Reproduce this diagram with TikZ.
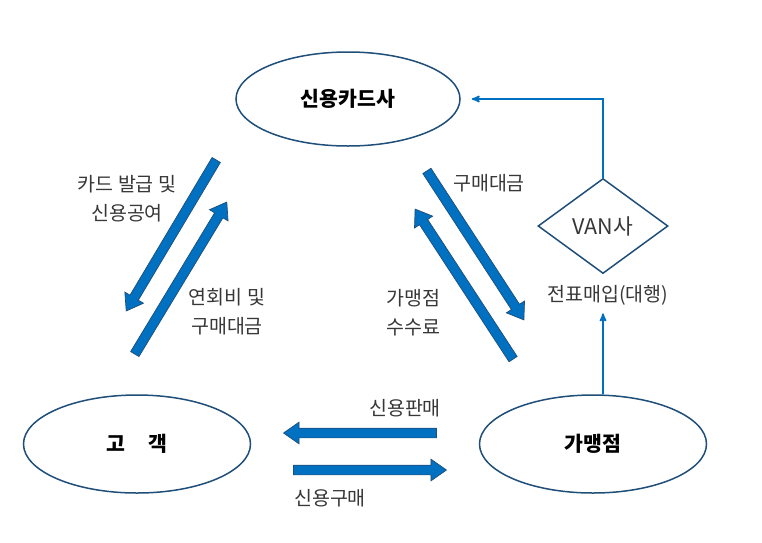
\documentclass[tikz,border=0pt]{standalone}
\usepackage{fontspec}
\setmainfont{Noto Sans CJK KR}
\usepackage{tikz}
\usetikzlibrary{arrows}
\usetikzlibrary{positioning,shapes.geometric,shapes.arrows,calc}
\definecolor{edgeblue}{RGB}{31,78,121}
\definecolor{arrowblue}{RGB}{0,112,192}
\definecolor{labelgray}{RGB}{55,55,55}

\begin{document}
\begin{tikzpicture}[
		x=1pt,
		y=-1pt,
		>=stealth',
		thick,
		main node/.style={
			ellipse,
			draw=edgeblue,
			line width=1.5pt,
			inner sep=0pt,
			font=\fontsize{20.5}{24}\selectfont\bfseries
		},
		label node/.style={
			text=labelgray,
			align=center,
			inner sep=0pt,
			font=\fontsize{19.5}{29}\selectfont
		},
		block arrow/.style={
			single arrow,
			draw=edgeblue,
			fill=arrowblue,
			line width=0.7pt,
			inner xsep=0pt,
			inner ysep=4.5pt,
			minimum width=0pt,
			single arrow head extend=6pt,
			single arrow tip angle=70
		},
		thin arrow/.style={
			->,
			draw=arrowblue,
			line width=1.7pt
		}
		]
		\useasboundingbox (0,0) rectangle (762,542);
		
		\node[main node, minimum width=224pt, minimum height=94pt] (card) at (348,99) {신용카드사};
		\node[main node, minimum width=227pt, minimum height=98pt] (cust) at (137,444) {고\hspace{1.1em}객};
		\node[main node, minimum width=227pt, minimum height=98pt] (shop) at (593,444) {가맹점};
		\node[diamond, aspect=1.37, draw=edgeblue, line width=1.5pt, inner sep=0pt,
			minimum width=130pt, minimum height=95pt, text=labelgray,
			font=\fontsize{21.5}{25}\selectfont] (van) at (603,226) {VAN사};
		
		\node[label node] (issue) at (127,199) {카드 발급 및\\신용공여};
		\node[label node] (annual) at (227,312) {연회비 및\\구매대금};
		\node[label node] (pay) at (489,183) {구매대금};
		\node[label node, align=left, anchor=west] (fee) at (386,313) {가맹점\\수수료};
		\node[label node] (sale) at (405,408) {신용판매};
		\node[label node] (buy) at (330,498) {신용구매};
		\node[label node] (slip) at (608,295) {전표매입(대행)};
		
		% ends of the block arrows
		\coordinate (a1s) at (218,157);
		\coordinate (a1e) at (128,308);
		\coordinate (a2s) at (133,357);
		\coordinate (a2e) at (225,205);
		\coordinate (a3s) at (425,168);
		\coordinate (a3e) at (522,317);
		\coordinate (a4s) at (515,362);
		\coordinate (a4e) at (417,212);
		\coordinate (a5s) at (440,433);
		\coordinate (a5e) at (287,433);
		\coordinate (a6s) at (290,470);
		\coordinate (a6e) at (443,470);
		
		\path let \p1=($(a1e)-(a1s)$), \n1={veclen(\x1,\y1)}, \n2={atan2(\y1,\x1)} in
			node[block arrow, minimum height=\n1, rotate=\n2] (arr1) at ($(a1s)!0.5!(a1e)$) {};
		\path let \p1=($(a2e)-(a2s)$), \n1={veclen(\x1,\y1)}, \n2={atan2(\y1,\x1)} in
			node[block arrow, minimum height=\n1, rotate=\n2] (arr2) at ($(a2s)!0.5!(a2e)$) {};
		\path let \p1=($(a3e)-(a3s)$), \n1={veclen(\x1,\y1)}, \n2={atan2(\y1,\x1)} in
			node[block arrow, minimum height=\n1, rotate=\n2] (arr3) at ($(a3s)!0.5!(a3e)$) {};
		\path let \p1=($(a4e)-(a4s)$), \n1={veclen(\x1,\y1)}, \n2={atan2(\y1,\x1)} in
			node[block arrow, minimum height=\n1, rotate=\n2] (arr4) at ($(a4s)!0.5!(a4e)$) {};
		\path let \p1=($(a5e)-(a5s)$), \n1={veclen(\x1,\y1)}, \n2={atan2(\y1,\x1)} in
			node[block arrow, minimum height=\n1, rotate=\n2] (arr5) at ($(a5s)!0.5!(a5e)$) {};
		\path let \p1=($(a6e)-(a6s)$), \n1={veclen(\x1,\y1)}, \n2={atan2(\y1,\x1)} in
			node[block arrow, minimum height=\n1, rotate=\n2] (arr6) at ($(a6s)!0.5!(a6e)$) {};
		
		\draw[thin arrow, shorten >=11pt] (van.north) |- (card.east);
		\draw[thin arrow] (van |- shop.north) -- ([yshift=-8pt]van |- slip.south);
	\end{tikzpicture}
\end{document}
